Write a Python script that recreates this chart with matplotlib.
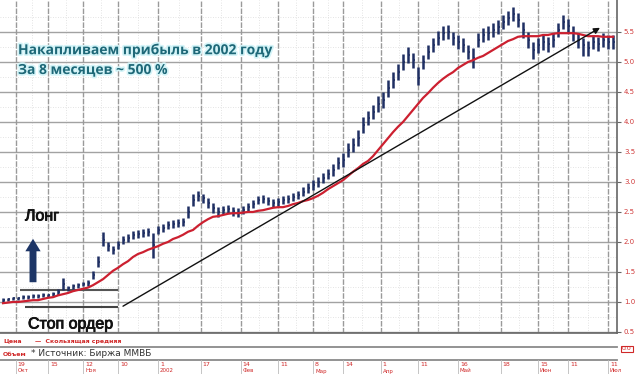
import matplotlib
matplotlib.use("Agg")
import matplotlib.pyplot as plt
import matplotlib.patheffects as pe
from matplotlib.lines import Line2D
import numpy as np

# ---------------- data ----------------
low = [1.00,1.02,1.04,1.04,1.05,1.05,1.07,1.07,1.08,1.09,
       1.10,1.12,1.20,1.19,1.22,1.24,1.26,1.27,1.38,1.58,
       1.93,1.85,1.80,1.88,1.97,2.00,2.05,2.07,2.09,2.10,
       1.73,2.13,2.16,2.22,2.24,2.25,2.27,2.40,2.60,2.68,
       2.65,2.57,2.48,2.42,2.46,2.48,2.44,2.41,2.46,2.51,
       2.56,2.63,2.65,2.61,2.58,2.60,2.63,2.65,2.68,2.71,
       2.76,2.82,2.87,2.92,2.98,3.05,3.10,3.22,3.25,3.42,
       3.50,3.60,3.82,3.95,4.05,4.17,4.23,4.42,4.57,4.70,
       4.87,4.98,4.90,4.62,4.88,5.05,5.17,5.28,5.37,5.38,
       5.28,5.22,5.17,5.05,4.90,5.25,5.33,5.37,5.42,5.47,
       5.55,5.62,5.68,5.58,5.40,5.23,5.05,5.15,5.20,5.17,
       5.25,5.42,5.55,5.48,5.35,5.23,5.10,5.10,5.22,5.18,
       5.25,5.22,5.22]
high = [1.06,1.07,1.09,1.09,1.11,1.11,1.13,1.13,1.15,1.14,
        1.16,1.21,1.40,1.27,1.30,1.32,1.34,1.36,1.52,1.76,
        2.17,2.00,1.93,2.02,2.10,2.13,2.18,2.20,2.21,2.23,
        2.15,2.27,2.30,2.35,2.36,2.38,2.40,2.60,2.80,2.85,
        2.80,2.73,2.65,2.58,2.60,2.62,2.59,2.56,2.60,2.65,
        2.70,2.77,2.78,2.75,2.72,2.73,2.77,2.78,2.82,2.85,
        2.91,2.98,3.03,3.08,3.15,3.22,3.30,3.42,3.48,3.65,
        3.73,3.87,4.08,4.18,4.28,4.43,4.50,4.70,4.83,4.97,
        5.13,5.25,5.15,4.92,5.12,5.28,5.40,5.52,5.60,5.62,
        5.50,5.45,5.40,5.28,5.23,5.48,5.57,5.60,5.65,5.70,
        5.78,5.85,5.92,5.82,5.67,5.50,5.33,5.40,5.45,5.42,
        5.48,5.65,5.78,5.72,5.60,5.48,5.40,5.35,5.45,5.42,
        5.48,5.45,5.45]
close = [1.03,1.05,1.07,1.07,1.08,1.08,1.10,1.10,1.12,1.12,
         1.13,1.17,1.30,1.23,1.27,1.28,1.30,1.32,1.45,1.67,
         2.03,1.93,1.87,1.95,2.03,2.07,2.12,2.13,2.15,2.17,
         1.95,2.20,2.23,2.28,2.30,2.32,2.33,2.50,2.70,2.77,
         2.73,2.65,2.57,2.50,2.53,2.55,2.52,2.48,2.53,2.58,
         2.63,2.70,2.72,2.68,2.65,2.67,2.70,2.72,2.75,2.78,
         2.83,2.90,2.95,3.00,3.07,3.13,3.20,3.32,3.37,3.53,
         3.62,3.73,3.95,4.07,4.17,4.30,4.37,4.57,4.70,4.83,
         5.00,5.12,5.03,4.73,5.00,5.17,5.28,5.40,5.48,5.50,
         5.40,5.33,5.28,5.17,5.07,5.37,5.45,5.48,5.53,5.58,
         5.67,5.73,5.80,5.70,5.53,5.37,5.20,5.28,5.33,5.30,
         5.37,5.53,5.67,5.60,5.48,5.37,5.28,5.23,5.33,5.30,
         5.37,5.33,5.33]
moving_avg = [0.98,0.99,1.00,1.00,1.01,1.02,1.03,1.03,1.05,1.07,
              1.08,1.11,1.13,1.15,1.18,1.20,1.22,1.24,1.28,1.33,
              1.38,1.45,1.52,1.57,1.63,1.68,1.75,1.80,1.83,1.87,
              1.90,1.93,1.97,2.00,2.05,2.08,2.12,2.17,2.20,2.27,
              2.33,2.38,2.42,2.43,2.45,2.47,2.48,2.48,2.49,2.50,
              2.50,2.52,2.53,2.55,2.57,2.58,2.58,2.60,2.63,2.65,
              2.68,2.70,2.73,2.77,2.82,2.88,2.93,2.98,3.03,3.10,
              3.17,3.23,3.30,3.35,3.43,3.53,3.63,3.73,3.83,3.92,
              4.00,4.10,4.20,4.30,4.40,4.48,4.57,4.65,4.72,4.78,
              4.83,4.90,4.95,5.00,5.03,5.07,5.10,5.15,5.20,5.25,
              5.30,5.35,5.38,5.42,5.43,5.43,5.43,5.43,5.45,5.45,
              5.47,5.48,5.48,5.48,5.48,5.47,5.45,5.43,5.43,5.43,
              5.42,5.42,5.42]

entry_level = 1.20
stop_level = 0.92
trend_start = (24, 0.93)
trend_end = (119.4, 5.57)

tick_pos = [2.5, 9, 16, 23, 31, 39.5, 47.5, 55, 62, 68, 75.5, 83, 91, 99.5, 107, 113, 121]
tick_day = ["19", "15", "12", "10", "1", "17", "14", "11", "8", "14", "1", "11", "16", "18", "15", "11", "11"]
tick_month = ["Окт", "", "Ноя", "", "2002", "", "Фев", "", "Мар", "", "Апр", "", "Май", "", "Июн", "", "Июл"]
y_ticks = [0.5, 1.0, 1.5, 2.0, 2.5, 3.0, 3.5, 4.0, 4.5, 5.0, 5.5]

# ---------------- figure ----------------
W, H = 640, 374
fig = plt.figure(figsize=(W / 100, H / 100), dpi=100)
fig.patch.set_facecolor("white")
ax = fig.add_axes([0, 1 - 333 / H, 617 / W, 333 / H])
x = np.arange(len(close))
ax.set_xlim(-0.6, 122.8)
ax.set_ylim(0.483, 6.033)

# grid
for yv in np.arange(0.75, 6.0, 0.5):
    ax.axhline(yv, color="#dadada", lw=0.6, ls=(0, (1, 2)), zorder=0)
for yv in y_ticks:
    ax.axhline(yv, color="#a2a2a2", lw=1.0, zorder=0.5)
mids = [(tick_pos[k] + tick_pos[k + 1]) / 2 for k in range(len(tick_pos) - 1)]
for xv in mids:
    ax.axvline(xv, color="#dadada", lw=0.6, ls=(0, (1, 2)), zorder=0)
for xv in tick_pos:
    ax.axvline(xv, color="#9a9a9a", lw=1.0, ls=(0, (4, 1)), zorder=0.5)

# price bars
navy = "#1f2f63"
ax.vlines(x, low, high, color=navy, lw=1.8, zorder=3)
ax.hlines(close, x, x + 0.45, color=navy, lw=1.2, zorder=3)

# moving average
ax.plot(x, moving_avg, color="#cc2030", lw=1.6, zorder=4)

# trend line with arrow
ax.annotate("", xy=trend_end, xytext=trend_start,
            arrowprops=dict(arrowstyle="-|>", color="#111111", lw=1.0,
                            mutation_scale=9, shrinkA=0, shrinkB=0), zorder=5)

# entry / stop levels
ax.hlines([entry_level], 3.4, 23, color="#555555", lw=1.5, zorder=2)
ax.hlines([stop_level], 4.4, 23, color="#444444", lw=1.5, zorder=2)

# up arrow (long)
ax.annotate("", xy=(33 / 617, (333 - 236) / 333), xytext=(33 / 617, (333 - 285) / 333),
            xycoords="axes fraction", textcoords="axes fraction",
            arrowprops=dict(arrowstyle="simple,head_width=1.1,head_length=0.9,tail_width=0.5",
                            color="#1d3566", lw=0), zorder=6)

# spines and ticks
for s in ["top", "left"]:
    ax.spines[s].set_visible(False)
ax.spines["right"].set_color("#666666")
ax.spines["right"].set_linewidth(1.2)
ax.spines["bottom"].set_color("#666666")
ax.spines["bottom"].set_linewidth(1.2)
ax.set_xticks([])
ax.yaxis.tick_right()
ax.set_yticks(y_ticks)
ax.set_yticklabels([f"{v:.1f}" for v in y_ticks])
ax.tick_params(axis="y", labelsize=5, labelcolor="#d03a3a", color="#666666",
               length=3, pad=2)

# texts
glow = [pe.withStroke(linewidth=2.5, foreground="#d4f4f8")]
fig.text(18 / W, 1 - 50 / H, "Накапливаем прибыль в 2002 году", fontsize=10,
         fontweight="bold", color="#1e6878", family="Open Sans", va="center",
         path_effects=glow)
fig.text(18 / W, 1 - 70 / H, "За 8 месяцев ~ 500 %", fontsize=10,
         fontweight="bold", color="#1e6878", family="Open Sans", va="center",
         path_effects=glow)
heavy = [pe.withStroke(linewidth=0.6, foreground="#111111")]
fig.text(25 / W, 1 - 216 / H, "Лонг", fontsize=11.5, color="#111111",
         family="Liberation Sans", va="center", path_effects=heavy)
fig.text(28 / W, 1 - 324 / H, "Стоп ордер", fontsize=11.5, color="#111111",
         family="Liberation Sans", va="center", path_effects=heavy)

# bottom panels
def hline_fig(y, color, lw):
    fig.add_artist(Line2D([0, 617 / W], [1 - y / H, 1 - y / H], color=color, lw=lw,
                          transform=fig.transFigure))

hline_fig(347, "#8a8a8a", 1.3)
hline_fig(359.5, "#8a8a8a", 1.3)
fig.text(3 / W, 1 - 341 / H, "Цена", fontsize=4.5, color="#d02828", va="center",
         fontweight="bold")
fig.text(35 / W, 1 - 341 / H, "—  Скользящая средняя", fontsize=4.5, color="#d02828",
         va="center", fontweight="bold")
fig.text(3 / W, 1 - 354 / H, "Объем", fontsize=4.5, color="#d02828", va="center",
         fontweight="bold")
fig.text(31 / W, 1 - 353 / H, "* Источник: Биржа ММВБ", fontsize=6.5, color="#333333",
         va="center")
fig.text(622 / W, 1 - 349 / H, "0.0", fontsize=4.5, color="#d02828", va="center",
         bbox=dict(boxstyle="square,pad=0.15", fc="white", ec="#d02828", lw=0.8))

# x tick labels below panels
for p, d, m in zip(tick_pos, tick_day, tick_month):
    px = (p + 0.6) / (122.8 + 0.6) * 617
    fig.add_artist(Line2D([px / W, px / W], [1 - 360 / H, 1 - 374 / H], color="#bbbbbb",
                          lw=0.6, transform=fig.transFigure))
    fig.text((px + 2) / W, 1 - 364 / H, d, fontsize=4.5, color="#d02828", va="center")
    if m:
        fig.text((px + 2) / W, 1 - 371 / H, m, fontsize=4, color="#d02828", va="center")

fig.savefig("out.png", dpi=100)
